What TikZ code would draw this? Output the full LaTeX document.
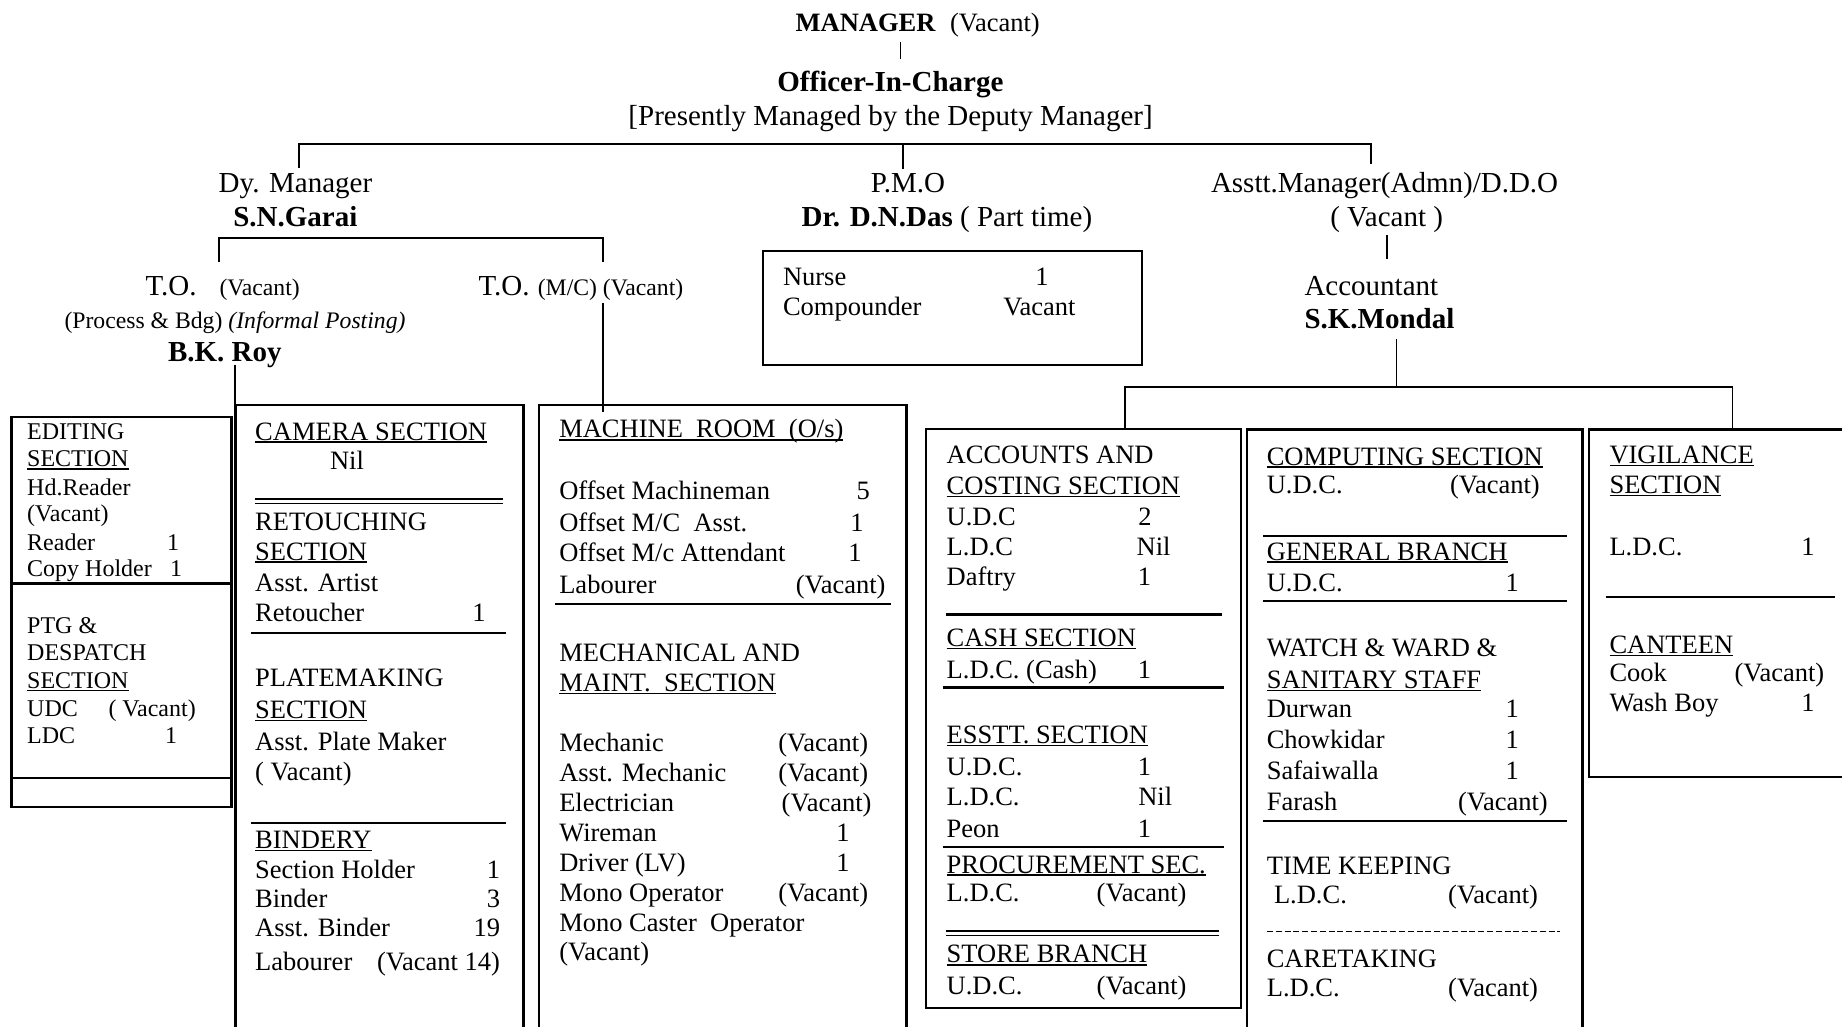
\documentclass[tikz,border=0pt]{standalone}
\usepackage{fontspec}
\setmainfont{Liberation Serif}
\newcounter{tn}
\tikzset{
 txt/.style={inner sep=0pt, outer sep=0pt, anchor=base west, font=\fontsize{26.5}{30}\selectfont},
 ttl/.style={font=\fontsize{29}{33}\selectfont},
 sml/.style={font=\fontsize{23.7}{27}\selectfont},
 ed/.style={font=\fontsize{24}{27}\selectfont},
 box/.style={draw, line width=2.4pt, inner sep=0pt, outer sep=0pt, anchor=north west},
 conn/.style={line width=1.8pt},
 rl/.style={line width=2.2pt},
 dbl/.style={line width=1.4pt},
}
\newcommand{\Tx}[4][]{\stepcounter{tn}\node[txt,#1] (t\arabic{tn}) at (#2,#3) {#4};}
\newcommand{\ulx}[1]{\setbox0=\hbox{#1}\rlap{\rule[-2.8pt]{\wd0}{1.5pt}}\box0}
\begin{document}
\begin{tikzpicture}[x=1pt,y=-1pt]
\useasboundingbox (0,0) rectangle (1842,1026);
\fill[white] (0,0) rectangle (1842,1026);
\clip (0,0) rectangle (1842,1026);

% ---------- header ----------
\node[txt] (mgr) at (795.7,31.7) {\bfseries MANAGER};
\node[txt] (mgrv) at (950,31.7) {(Vacant)};
\node[txt,ttl,anchor=base] (oic) at (890.4,91.7) {\bfseries Officer-In-Charge};
\node[txt,ttl,anchor=base] (pres) at (890.6,125) {[Presently Managed by the Deputy Manager]};
\coordinate (mgrtick) at (900.5,41.7);
\coordinate (oictick) at (900.5,59.3);
\draw[line width=1.3pt] (mgrtick) -- (oictick);

\coordinate (barL) at (299,144);
\coordinate (barM) at (903,144);
\coordinate (barR) at (1371,144);
\coordinate (dymtop) at (299,168.3);
\coordinate (pmotop) at (903,169.3);
\coordinate (asmtop) at (1371,164);
\draw[conn] (dymtop) -- (barL) -- (barR) -- (asmtop);
\draw[conn] (barM) -- (pmotop);

% ---------- level 2 ----------
\node[txt,ttl] (dym) at (218.7,192.7) {Dy. Manager};
\node[txt,ttl] (sng) at (233.3,226.7) {\bfseries S.N.Garai};
\node[txt,ttl,anchor=base] (pmo) at (907.9,192.5) {P.M.O};
\node[txt,ttl] (das) at (801.7,226.7) {\textbf{Dr. D.N.Das} ( Part time)};
\node[txt,ttl] (asm) at (1211,192.5) {Asstt.Manager(Admn)/D.D.O};
\node[txt,ttl] (asmv) at (1330.3,226.7) {( Vacant )};
\coordinate (asmbot) at (1386.6,235);
\coordinate (acctop) at (1386.6,259);
\draw[conn] (asmbot) -- (acctop);
\node[txt,ttl] (acc) at (1304.5,295) {Accountant};
\node[txt,ttl] (skm) at (1304.5,328.3) {\bfseries S.K.Mondal};

% T.O. bracket
\coordinate (brL) at (218.7,262.3);
\coordinate (brR) at (603,262.3);
\draw[conn] (brL) -- (218.7,238.3) -- (603,238.3) -- (brR);
\node[txt,ttl] (toa) at (145.5,295) {T.O.};
\node[txt,sml] (toav) at (219.5,295) {(Vacant)};
\node[txt,sml] (proc) at (64.5,328.3) {(Process \& Bdg) \textit{(Informal Posting)}};
\node[txt,ttl] (bkr) at (168,361.7) {\bfseries B.K. Roy};
\node[txt,ttl] (tob) at (478.5,295) {T.O.};
\node[txt,sml] (tobv) at (537.8,295) {(M/C) (Vacant)};

% ---------- boxes ----------
\node[box, minimum width=220pt, minimum height=390pt] (edit) at (11.4,416.7) {};
\node[box, minimum width=288.1pt, minimum height=700pt] (cam) at (235.3,405) {};
\node[box, minimum width=367.8pt, minimum height=700pt] (mach) at (538.7,405) {};
\node[box, minimum width=378.8pt, minimum height=114.3pt] (nurse) at (762.9,250.7) {};
\node[box, minimum width=314.7pt, minimum height=579.3pt] (acct) at (926,428.7) {};
\node[box, minimum width=335.7pt, minimum height=700pt] (comp) at (1246.8,429.3) {};
\node[box, minimum width=300pt, minimum height=347.4pt] (vig) at (1588.9,429.3) {};

% connectors to boxes
\coordinate (bkrbot) at (235.3,365);
\draw[conn] (bkrbot) -- (cam.north west);
\coordinate (tobbot) at (603,303);
\coordinate (machin) at (603,411.7);
\draw[conn] (tobbot) -- (machin);
\coordinate (skmbot) at (1396.5,339.3);
\coordinate (skmbar) at (1396.5,386.7);
\coordinate (accbar) at (1125,386.7);
\coordinate (vigbar) at (1732.5,386.7);
\draw[conn] (skmbot) -- (skmbar);
\draw[conn] (acct.north -| accbar) -- (accbar) -- (vigbar) -- (vig.north -| vigbar);

% ---------- editing box ----------
\draw[box] (11.4,583.3) -- (231.4,583.3);
\draw[box] (11.4,777.7) -- (231.4,777.7);
\Tx[ed]{27.2}{439.3}{EDITING}
\Tx[ed]{27.2}{466.7}{\ulx{SECTION}}
\Tx[ed]{27.2}{495}{Hd.Reader}
\Tx[ed]{27.2}{521.7}{(Vacant)}
\Tx[ed]{27.2}{550}{Reader}
\Tx[ed,anchor=base]{173}{550}{1}
\Tx[ed]{27.2}{576.7}{Copy Holder}
\Tx[ed,anchor=base]{176}{576.7}{1}
\Tx[ed]{27.2}{633.3}{PTG \&}
\Tx[ed]{27.2}{660.7}{DESPATCH}
\Tx[ed]{27.2}{688.3}{\ulx{SECTION}}
\Tx[ed]{27.2}{716.7}{UDC}
\Tx[ed]{108.5}{716.7}{( Vacant)}
\Tx[ed]{27.2}{743.3}{LDC}
\Tx[ed,anchor=base]{171}{743.3}{1}

% ---------- camera box ----------
\Tx{255.2}{440}{\ulx{CAMERA SECTION}}
\Tx{330}{469}{Nil}
\draw[dbl] (255,499) -- (502.8,499);
\draw[dbl] (255,503.7) -- (502.8,503.7);
\Tx{255.2}{530}{RETOUCHING}
\Tx{255.2}{560}{\ulx{SECTION}}
\Tx{255.2}{591.7}{Asst. Artist}
\Tx{255.2}{621.7}{Retoucher}
\Tx[anchor=base]{479}{621.7}{1}
\draw[rl] (251.4,633.3) -- (506.2,633.3);
\Tx{255.2}{686.7}{PLATEMAKING}
\Tx{255.2}{718.3}{\ulx{SECTION}}
\Tx{255.2}{750}{Asst. Plate Maker}
\Tx{255.2}{780}{( Vacant)}
\draw[rl] (251,822.7) -- (506,822.7);
\Tx{255.2}{848.3}{\ulx{BINDERY}}
\Tx{255.2}{878.3}{Section Holder}
\Tx[anchor=base east]{500}{878.3}{1}
\Tx{255.2}{907.7}{Binder}
\Tx[anchor=base east]{500}{907.7}{3}
\Tx{255.2}{936.7}{Asst. Binder}
\Tx[anchor=base east]{500}{936.7}{19}
\Tx{255.2}{970}{Labourer}
\Tx[anchor=base east]{500}{970}{(Vacant 14)}

% ---------- machine room box ----------
\Tx{559.3}{437.9}{\ulx{MACHINE\ \ ROOM\ \ (O/s)}}
\Tx{559.3}{499.8}{Offset Machineman}
\Tx[anchor=base]{863.3}{499.8}{5}
\Tx{559.3}{531.7}{Offset M/C\ \ Asst.}
\Tx[anchor=base]{857}{531.7}{1}
\Tx{559.3}{561.7}{Offset M/c Attendant}
\Tx[anchor=base]{855}{561.7}{1}
\Tx{559.3}{593.6}{Labourer}
\Tx[anchor=base east]{885.5}{593.6}{(Vacant)}
\draw[rl] (555,603.6) -- (890.7,603.6);
\Tx{559.3}{661.5}{MECHANICAL AND}
\Tx{559.3}{691.4}{\ulx{MAINT.\ \ SECTION}}
\Tx{559.3}{751.3}{Mechanic}
\Tx{778.3}{751.3}{(Vacant)}
\Tx{559.3}{781.2}{Asst. Mechanic}
\Tx{778.3}{781.2}{(Vacant)}
\Tx{559.3}{811.2}{Electrician}
\Tx{781.7}{811.2}{(Vacant)}
\Tx{559.3}{841.1}{Wireman}
\Tx[anchor=base]{843}{841.1}{1}
\Tx{559.3}{871.1}{Driver (LV)}
\Tx[anchor=base]{843}{871.1}{1}
\Tx{559.3}{901}{Mono Operator}
\Tx{778.3}{901}{(Vacant)}
\Tx{559.3}{931}{Mono Caster\ \ Operator}
\Tx{559.3}{960.9}{(Vacant)}

% ---------- nurse box ----------
\Tx{783}{285}{Nurse}
\Tx[anchor=base]{1042}{285}{1}
\Tx{783}{315}{Compounder}
\Tx{1003.3}{315}{Vacant}

% ---------- accounts box ----------
\Tx{946.7}{463.9}{ACCOUNTS AND}
\Tx{946.7}{494.6}{\ulx{COSTING SECTION}}
\Tx{946.7}{525}{U.D.C}
\Tx[anchor=base]{1145}{525}{2}
\Tx{946.7}{555.7}{L.D.C}
\Tx{1136.7}{555.7}{Nil}
\Tx{946.7}{585.6}{Daftry}
\Tx[anchor=base]{1144.5}{585.6}{1}
\draw[rl] (946,614.4) -- (1221.7,614.4);
\Tx{946.7}{646.3}{\ulx{CASH SECTION}}
\Tx{946.7}{678.6}{L.D.C. (Cash)}
\Tx[anchor=base]{1144.5}{678.6}{1}
\draw[rl] (943,687.4) -- (1224,687.4);
\Tx{946.7}{743.3}{\ulx{ESSTT. SECTION}}
\Tx{946.7}{775.2}{U.D.C.}
\Tx[anchor=base]{1144.5}{775.2}{1}
\Tx{946.7}{805.2}{L.D.C.}
\Tx{1138.3}{805.2}{Nil}
\Tx{946.7}{837.1}{Peon}
\Tx[anchor=base]{1144.5}{837.1}{1}
\draw[rl] (943,847.1) -- (1224,847.1);
\Tx{946.7}{873}{\ulx{PROCUREMENT SEC.}}
\Tx{946.7}{901.8}{L.D.C.}
\Tx{1096.7}{901.8}{(Vacant)}
\draw[dbl] (946,930.9) -- (1219,930.9);
\draw[dbl] (946,935.7) -- (1219,935.7);
\Tx{946.7}{962.9}{\ulx{STORE BRANCH}}
\Tx{946.7}{994.8}{U.D.C.}
\Tx{1096.7}{994.8}{(Vacant)}

% ---------- computing box ----------
\Tx{1266.8}{465}{\ulx{COMPUTING SECTION}}
\Tx{1266.8}{493.3}{U.D.C.}
\Tx{1450}{493.3}{(Vacant)}
\draw[rl] (1262.8,535.7) -- (1567,535.7);
\Tx{1266.8}{560}{\ulx{GENERAL BRANCH}}
\Tx{1266.8}{591.7}{U.D.C.}
\Tx[anchor=base]{1512.3}{591.7}{1}
\draw[rl] (1262.8,600.7) -- (1567,600.7);
\Tx{1266.8}{656.7}{WATCH \& WARD \&}
\Tx{1266.8}{688.3}{\ulx{SANITARY STAFF}}
\Tx{1266.8}{717.3}{Durwan}
\Tx[anchor=base]{1512.3}{717.3}{1}
\Tx{1266.8}{748.3}{Chowkidar}
\Tx[anchor=base]{1512.3}{748.3}{1}
\Tx{1266.8}{779}{Safaiwalla}
\Tx[anchor=base]{1512.3}{779}{1}
\Tx{1266.8}{810}{Farash}
\Tx{1458}{810}{(Vacant)}
\draw[rl] (1262.5,820.7) -- (1567.4,820.7);
\Tx{1266.8}{874.3}{TIME KEEPING}
\Tx{1274}{903.3}{L.D.C.}
\Tx{1448.2}{903.3}{(Vacant)}
\draw[line width=1.5pt, dash pattern=on 6pt off 2.8pt] (1267,931.7) -- (1559.8,931.7);
\Tx{1266.8}{967.7}{CARETAKING}
\Tx{1266.8}{996.7}{L.D.C.}
\Tx{1448.2}{996.7}{(Vacant)}

% ---------- vigilance box ----------
\Tx{1609.5}{463.3}{\ulx{VIGILANCE}}
\Tx{1609.5}{493.3}{\ulx{SECTION}}
\Tx{1609.5}{555}{L.D.C.}
\Tx[anchor=base]{1808}{555}{1}
\draw[rl] (1605.6,596.7) -- (1834.8,596.7);
\Tx{1609.5}{653.3}{\ulx{CANTEEN}}
\Tx{1609.5}{681.7}{Cook}
\Tx{1734.5}{681.7}{(Vacant)}
\Tx{1609.5}{711.7}{Wash Boy}
\Tx[anchor=base]{1808}{711.7}{1}
\end{tikzpicture}
\end{document}
